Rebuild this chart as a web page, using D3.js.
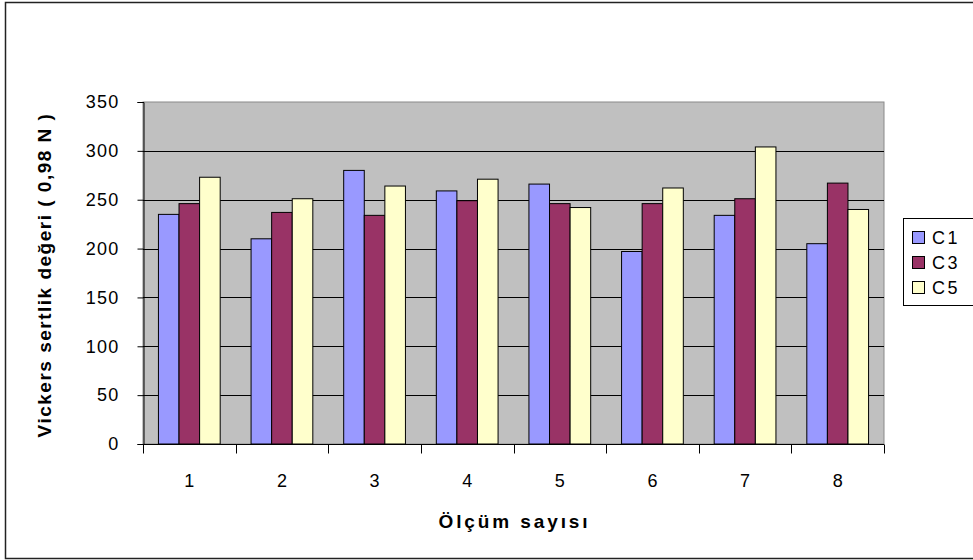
<!DOCTYPE html>
<html>
<head>
<meta charset="utf-8">
<script src="https://cdn.jsdelivr.net/npm/d3@7/dist/d3.min.js"></script>
<style>
  html, body { margin: 0; padding: 0; background: #ffffff; }
  svg { display: block; }
  text { font-family: "Liberation Sans", Arial, sans-serif; fill: #000; }
</style>
</head>
<body>
<div id="chart"></div>
<script>
// Vickers hardness per measurement, three samples
const categories = ["1", "2", "3", "4", "5", "6", "7", "8"];
const seriesNames = ["C1", "C3", "C5"];
const c1Values = [235, 210, 280, 259, 266, 197, 234, 205];
const c3Values = [246, 237, 234, 249, 246, 246, 251, 267];
const c5Values = [273, 251, 264, 271, 242, 262, 304, 240];
const yTicks = [0, 50, 100, 150, 200, 250, 300, 350];
const seriesColors = ["#9999ff", "#993366", "#ffffcc"];

const xTitle = "Ölçüm sayısı";
const yTitle = "Vickers sertlik değeri ( 0,98 N )";

const W = 973, H = 560;
const plot = { left: 143, right: 884, top: 102, bottom: 444 };

const svg = d3.select("#chart").append("svg")
  .attr("width", W).attr("height", H);

// outer chart frame
svg.append("rect")
  .attr("x", 5.5).attr("y", 2.5)
  .attr("width", W + 10).attr("height", 556)
  .attr("fill", "#fff").attr("stroke", "#222").attr("stroke-width", 1.5);

const x0 = d3.scaleBand().domain(categories)
  .range([plot.left, plot.right]).paddingInner(0).paddingOuter(0);
const x1 = d3.scaleBand().domain(seriesNames)
  .range([0, x0.bandwidth()]).paddingInner(0).paddingOuter(0.75);
const y = d3.scaleLinear().domain([0, 350]).range([plot.bottom, plot.top]);

// plot background
svg.append("rect")
  .attr("x", plot.left).attr("y", plot.top)
  .attr("width", plot.right - plot.left).attr("height", plot.bottom - plot.top)
  .attr("fill", "#c0c0c0").attr("stroke", "#8a8a8a").attr("stroke-width", 1);

// horizontal gridlines
svg.append("g").selectAll("line")
  .data(yTicks.filter(t => t > 0 && t < 350))
  .join("line")
  .attr("x1", plot.left).attr("x2", plot.right)
  .attr("y1", d => Math.round(y(d)) + 0.5).attr("y2", d => Math.round(y(d)) + 0.5)
  .attr("stroke", "#000").attr("stroke-width", 1);

// bars
const rows = categories.map((c, i) => ({
  cat: c,
  vals: [c1Values[i], c3Values[i], c5Values[i]]
}));

svg.append("g").selectAll("g")
  .data(rows)
  .join("g")
  .attr("transform", d => `translate(${x0(d.cat)},0)`)
  .selectAll("rect")
  .data(d => d.vals.map((v, j) => ({ name: seriesNames[j], v, j })))
  .join("rect")
  .attr("x", d => x1(d.name))
  .attr("width", x1.bandwidth())
  .attr("y", d => y(d.v))
  .attr("height", d => y(0) - y(d.v))
  .attr("fill", d => seriesColors[d.j])
  .attr("stroke", "#000").attr("stroke-width", 1);

// y axis
const yAxis = d3.axisLeft(y).tickValues(yTicks).tickSize(6).tickPadding(18);
const gy = svg.append("g")
  .attr("transform", `translate(${plot.left + 0.5},0)`)
  .call(yAxis);
gy.select(".domain").attr("stroke", "#000");
gy.selectAll(".tick line").attr("stroke", "#000");
gy.selectAll(".tick text")
  .style("font-family", "'Liberation Sans', Arial, sans-serif")
  .style("font-size", "18px")
  .style("letter-spacing", "1.2px");

// x axis: ticks at category boundaries, labels at category centres
const gx = svg.append("g")
  .attr("transform", `translate(0,${plot.bottom + 0.5})`);
gx.append("line")
  .attr("x1", plot.left).attr("x2", plot.right)
  .attr("stroke", "#000");
const boundaries = categories.map(c => x0(c)).concat([plot.right]);
gx.selectAll(".bt").data(boundaries).join("line")
  .attr("class", "bt")
  .attr("x1", d => Math.round(d) + 0.5).attr("x2", d => Math.round(d) + 0.5)
  .attr("y1", 0).attr("y2", 9)
  .attr("stroke", "#000");
gx.selectAll("text").data(categories).join("text")
  .attr("x", d => x0(d) + x0.bandwidth() / 2)
  .attr("y", 42)
  .attr("text-anchor", "middle")
  .style("font-size", "18px")
  .text(d => d);

// axis titles
svg.append("text")
  .attr("x", (plot.left + plot.right) / 2 + 1)
  .attr("y", 528)
  .attr("text-anchor", "middle")
  .style("font-size", "19px").style("font-weight", "bold")
  .style("letter-spacing", "2.9px")
  .text(xTitle);

svg.append("text")
  .attr("transform", `translate(51,${(plot.top + plot.bottom) / 2 + 2}) rotate(-90)`)
  .attr("text-anchor", "middle")
  .style("font-size", "19px").style("font-weight", "bold")
  .style("letter-spacing", "1.5px")
  .text(yTitle);

// legend
const lg = svg.append("g").attr("transform", "translate(903,218)");
lg.append("rect")
  .attr("x", 0.5).attr("y", 0.5).attr("width", 90).attr("height", 87)
  .attr("fill", "#fff").attr("stroke", "#000").attr("stroke-width", 1);
const items = lg.selectAll(".item").data(seriesNames).join("g")
  .attr("class", "item")
  .attr("transform", (d, i) => `translate(0,${19 + i * 25})`);
items.append("rect")
  .attr("x", 9.5).attr("y", -5.5).attr("width", 12).attr("height", 12)
  .attr("fill", (d, i) => seriesColors[i])
  .attr("stroke", "#000");
items.append("text")
  .attr("x", 29).attr("y", 1).attr("dy", "0.36em")
  .style("font-size", "18px").style("letter-spacing", "2.5px")
  .text(d => d);
</script>
</body>
</html>
